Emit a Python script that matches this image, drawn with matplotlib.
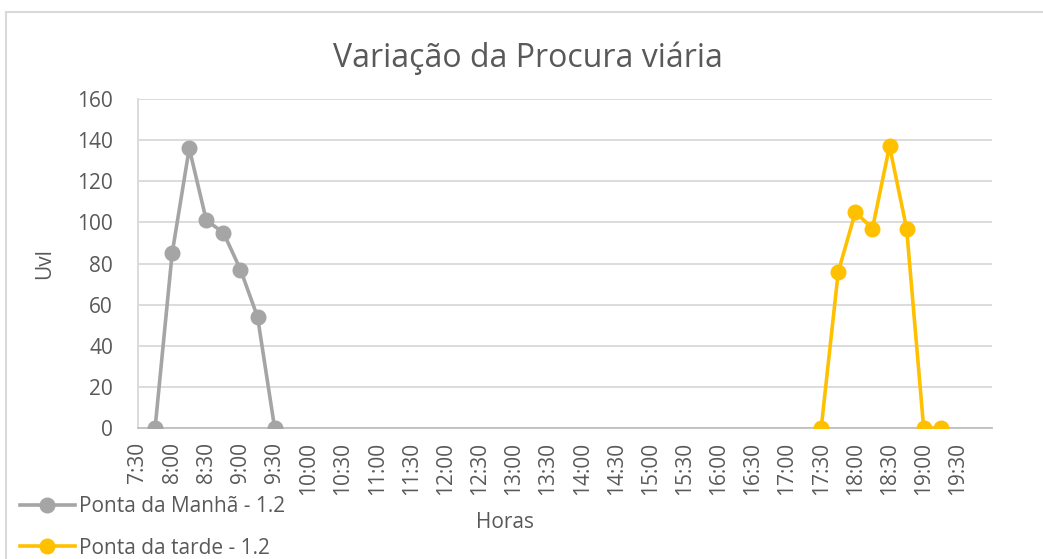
import matplotlib
matplotlib.use("Agg")
import matplotlib.pyplot as plt
import matplotlib.patches as mpatches
import numpy as np

# 15-minute time slots from 7:30 to 20:00
hours = [f"{h}:{m:02d}" for h in range(7, 21) for m in (0, 15, 30, 45)]
hours = hours[hours.index("7:30"):hours.index("20:00") + 1]

manha_times = ["7:45", "8:00", "8:15", "8:30", "8:45", "9:00", "9:15", "9:30"]
manha_uvl = [0, 85, 136, 101, 95, 77, 54, 0]

tarde_times = ["17:30", "17:45", "18:00", "18:15", "18:30", "18:45", "19:00", "19:15"]
tarde_uvl = [0, 76, 105, 97, 137, 97, 0, 0]

GRAY = "#A5A5A5"
GOLD = "#FFC000"
TEXT = "#595959"
GRID = "#D9D9D9"

plt.rcParams.update({
    "font.family": ["Open Sans", "DejaVu Sans"],
    "text.color": TEXT,
    "axes.labelcolor": TEXT,
    "xtick.color": TEXT,
    "ytick.color": TEXT,
})

fig = plt.figure(figsize=(10.43, 5.59), dpi=100)
fig.patches.append(mpatches.Rectangle((6 / 1043, -0.1), 1.2, 1 - 12 / 559 + 0.1,
                                      transform=fig.transFigure, fill=False,
                                      edgecolor=GRID, linewidth=1.5))

ax = fig.add_axes([138 / 1043, 1 - 428 / 559, (992 - 138) / 1043, (428 - 99) / 559])

xm = [hours.index(t) for t in manha_times]
xt = [hours.index(t) for t in tarde_times]
ax.plot(xm, manha_uvl, color=GRAY, lw=2.6, marker="o", ms=10.5,
        label="Ponta da Manhã - 1.2", zorder=3)
ax.plot(xt, tarde_uvl, color=GOLD, lw=2.6, marker="o", ms=10.5,
        label="Ponta da tarde - 1.2", zorder=3)

ax.set_xlim(0, len(hours) - 1)
ax.set_ylim(0, 160)
ax.set_yticks(np.arange(0, 161, 20))
ax.set_xticks(range(0, len(hours) - 1, 2))
ax.set_xticklabels(hours[0:len(hours) - 1:2], rotation=90, va="top", ha="center")
ax.tick_params(axis="both", length=0, labelsize=15)
ax.tick_params(axis="x", pad=10)
ax.tick_params(axis="y", pad=18)

ax.grid(axis="y", color=GRID, lw=1.3)
ax.set_axisbelow(True)
for side in ("top", "right"):
    ax.spines[side].set_visible(False)
ax.spines["left"].set_color(GRID)
ax.spines["bottom"].set_color("#BFBFBF")
ax.spines["left"].set_linewidth(1.3)
ax.spines["bottom"].set_linewidth(1.3)

ax.set_ylabel("Uvl", fontsize=15, labelpad=16)
fig.text(505 / 1043, 1 - 522 / 559, "Horas", fontsize=15, ha="center", va="center")
fig.text(528 / 1043, 1 - 58 / 559, "Variação da Procura viária", fontsize=23,
         ha="center", va="center")

fig.legend(loc="lower left", bbox_to_anchor=(12 / 1043, -8 / 559), frameon=False,
           fontsize=15, handlelength=2.6, labelspacing=1.0, borderaxespad=0,
           handletextpad=0.2)

fig.savefig("out.png", dpi=100, facecolor="white")
